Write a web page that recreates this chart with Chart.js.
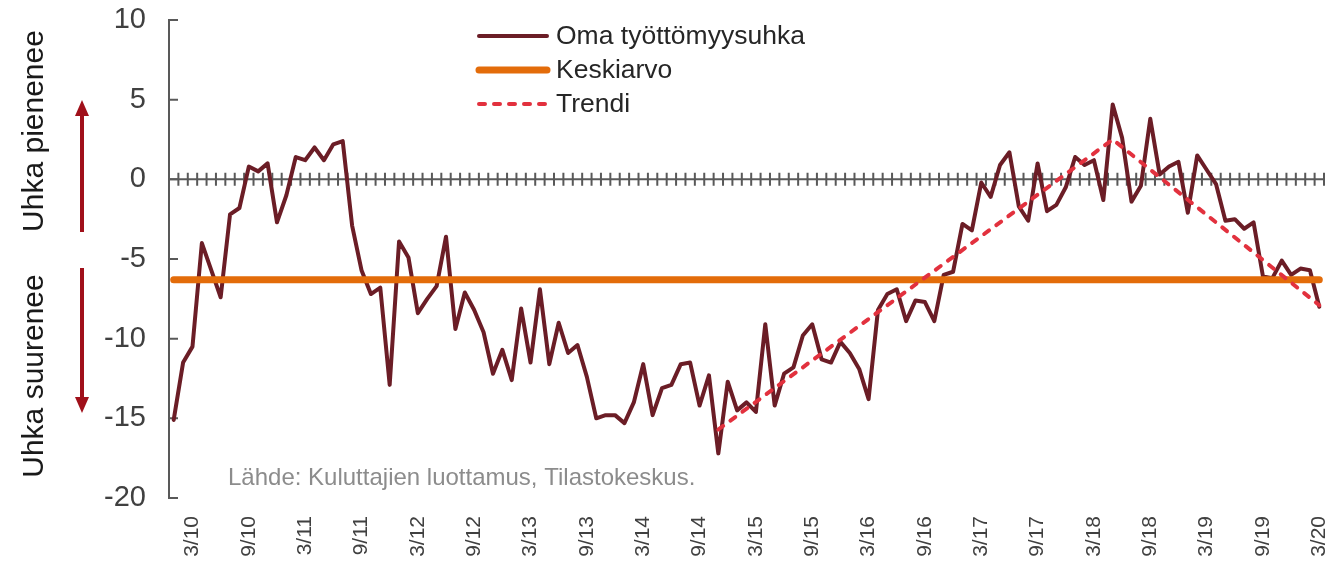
<!DOCTYPE html>
<html>
<head>
<meta charset="utf-8">
<script src="https://cdn.jsdelivr.net/npm/chart.js@4/dist/chart.umd.min.js"></script>
<style>
  html, body { margin: 0; padding: 0; background: #fff; }
  #wrap { width: 1330px; height: 562px; position: relative; }
</style>
</head>
<body>
<div id="wrap"><canvas id="c" width="1330" height="562"></canvas></div>
<script>
// ---------- DATA ----------
const categories = [
  "1/10","2/10","3/10","4/10","5/10","6/10","7/10","8/10","9/10","10/10","11/10","12/10",
  "1/11","2/11","3/11","4/11","5/11","6/11","7/11","8/11","9/11","10/11","11/11","12/11",
  "1/12","2/12","3/12","4/12","5/12","6/12","7/12","8/12","9/12","10/12","11/12","12/12",
  "1/13","2/13","3/13","4/13","5/13","6/13","7/13","8/13","9/13","10/13","11/13","12/13",
  "1/14","2/14","3/14","4/14","5/14","6/14","7/14","8/14","9/14","10/14","11/14","12/14",
  "1/15","2/15","3/15","4/15","5/15","6/15","7/15","8/15","9/15","10/15","11/15","12/15",
  "1/16","2/16","3/16","4/16","5/16","6/16","7/16","8/16","9/16","10/16","11/16","12/16",
  "1/17","2/17","3/17","4/17","5/17","6/17","7/17","8/17","9/17","10/17","11/17","12/17",
  "1/18","2/18","3/18","4/18","5/18","6/18","7/18","8/18","9/18","10/18","11/18","12/18",
  "1/19","2/19","3/19","4/19","5/19","6/19","7/19","8/19","9/19","10/19","11/19","12/19",
  "1/20","2/20","3/20"
];
const tickLabels = ["3/10","9/10","3/11","9/11","3/12","9/12","3/13","9/13","3/14","9/14",
  "3/15","9/15","3/16","9/16","3/17","9/17","3/18","9/18","3/19","9/19","3/20"];

const ownThreat = [
  -15.1, -11.5, -10.5, -4.0, -5.7, -7.4, -2.2, -1.8, 0.8, 0.5, 1.0, -2.7,
  -1.0, 1.4, 1.2, 2.0, 1.2, 2.2, 2.4, -2.9, -5.7, -7.2, -6.8, -12.9,
  -3.9, -4.9, -8.4, -7.5, -6.7, -3.6, -9.4, -7.1, -8.2, -9.6, -12.2, -10.7,
  -12.6, -8.1, -11.5, -6.9, -11.6, -9.0, -10.9, -10.4, -12.4, -15.0, -14.8, -14.8,
  -15.3, -14.0, -11.6, -14.8, -13.1, -12.9, -11.6, -11.5, -14.2, -12.3, -17.2, -12.7,
  -14.5, -14.0, -14.6, -9.1, -14.2, -12.2, -11.8, -9.8, -9.1, -11.3, -11.5, -10.2,
  -10.9, -11.9, -13.8, -8.2, -7.2, -6.9, -8.9, -7.6, -7.7, -8.9, -6.0, -5.8,
  -2.8, -3.2, -0.2, -1.1, 0.9, 1.7, -1.7, -2.6, 1.0, -2.0, -1.6, -0.5,
  1.4, 0.9, 1.2, -1.3, 4.7, 2.6, -1.4, -0.4, 3.8, 0.3, 0.8, 1.1,
  -2.1, 1.5, 0.6, -0.3, -2.6, -2.5, -3.1, -2.7, -6.1, -6.2, -5.1, -6.0,
  -5.6, -5.7, -8.0
];

const meanValue = -6.3;
const meanLabels = ["1/10", "3/20"];
const trendLabels = ["11/14", "5/18", "3/20"];
const trendValues = [-15.7, 2.5, -7.9];

const seriesNames = ["Oma työttömyysuhka", "Keskiarvo", "Trendi"];
const yMin = -20, yMax = 10, yStep = 5;
const sourceText = "Lähde: Kuluttajien luottamus, Tilastokeskus.";
const sideUp = "Uhka pienenee";
const sideDown = "Uhka suurenee";

// ---------- STYLE ----------
const FONT = "'Liberation Sans', Arial, sans-serif";
const AXIS_COLOR = "#595959";
const TEXT_COLOR = "#404040";
const C_MAIN = "#6B1D26";
const C_MEAN = "#E36C0A";
const C_TREND = "#E2313E";
const C_ARROW = "#A0101A";

const overlay = {
  id: "overlay",
  beforeDatasetsDraw(chart) {
    const ctx = chart.ctx;
    const x = chart.scales.x, y = chart.scales.y;
    const area = chart.chartArea;
    const y0 = y.getPixelForValue(0);
    ctx.save();
    ctx.strokeStyle = AXIS_COLOR;
    ctx.lineWidth = 2;
    ctx.beginPath();
    ctx.moveTo(area.left, y0);
    ctx.lineTo(area.right, y0);
    ctx.stroke();
    const step = x.getPixelForValue(1) - x.getPixelForValue(0);
    ctx.beginPath();
    for (let i = 0; i < categories.length; i++) {
      const bx = x.getPixelForValue(i) + step / 2;
      ctx.moveTo(bx, y0 - 6.5);
      ctx.lineTo(bx, y0 + 6.5);
    }
    ctx.stroke();
    // inside ticks on y axis
    ctx.beginPath();
    for (let v = yMin; v <= yMax; v += yStep) {
      const py = y.getPixelForValue(v);
      ctx.moveTo(area.left, py);
      ctx.lineTo(area.left + 9, py);
    }
    ctx.stroke();
    ctx.restore();
  },
  afterDraw(chart) {
    const ctx = chart.ctx;
    ctx.save();
    // source
    ctx.fillStyle = "#8C8C8C";
    ctx.font = "24px " + FONT;
    ctx.textAlign = "left";
    ctx.textBaseline = "middle";
    ctx.fillText(sourceText, 228, 478);
    // side labels
    ctx.fillStyle = "#1A1A1A";
    ctx.font = "30px " + FONT;
    ctx.textAlign = "center";
    ctx.textBaseline = "middle";
    ctx.save();
    ctx.translate(35, 131);
    ctx.rotate(-Math.PI / 2);
    ctx.fillText(sideUp, 0, 0);
    ctx.restore();
    ctx.save();
    ctx.translate(35, 376);
    ctx.rotate(-Math.PI / 2);
    ctx.fillText(sideDown, 0, 0);
    ctx.restore();
    // arrows
    function arrow(xp, yFrom, yTip) {
      const dir = yTip < yFrom ? -1 : 1;
      const headLen = 16, headHalf = 7;
      ctx.strokeStyle = C_ARROW;
      ctx.fillStyle = C_ARROW;
      ctx.lineWidth = 4;
      ctx.beginPath();
      ctx.moveTo(xp, yFrom);
      ctx.lineTo(xp, yTip - dir * headLen);
      ctx.stroke();
      ctx.beginPath();
      ctx.moveTo(xp, yTip);
      ctx.lineTo(xp - headHalf, yTip - dir * headLen);
      ctx.lineTo(xp + headHalf, yTip - dir * headLen);
      ctx.closePath();
      ctx.fill();
    }
    arrow(82, 232, 100);
    arrow(82, 268, 413);
    // legend
    const rows = [36, 70, 104];
    chart.data.datasets.forEach((ds, i) => {
      const ry = rows[i];
      ctx.strokeStyle = ds.borderColor;
      ctx.lineWidth = ds.borderWidth;
      ctx.lineCap = ds.borderCapStyle || "butt";
      ctx.setLineDash(ds.borderDash || []);
      ctx.beginPath();
      ctx.moveTo(479, ry);
      ctx.lineTo(547, ry);
      ctx.stroke();
      ctx.setLineDash([]);
      ctx.fillStyle = "#262626";
      ctx.font = "26.5px " + FONT;
      ctx.textAlign = "left";
      ctx.textBaseline = "middle";
      ctx.fillText(ds.label, 556, ry + 1);
    });
    ctx.restore();
  }
};

new Chart(document.getElementById("c"), {
  type: "line",
  data: {
    labels: categories,
    datasets: [
      {
        label: seriesNames[0],
        data: ownThreat,
        borderColor: C_MAIN,
        borderWidth: 4,
        borderJoinStyle: "round",
        borderCapStyle: "round",
        pointRadius: 0,
        tension: 0,
        order: 3
      },
      {
        label: seriesNames[1],
        data: meanLabels.map(l => ({ x: l, y: meanValue })),
        borderColor: C_MEAN,
        borderWidth: 7,
        borderCapStyle: "round",
        pointRadius: 0,
        spanGaps: true,
        order: 2
      },
      {
        label: seriesNames[2],
        data: trendLabels.map((l, i) => ({ x: l, y: trendValues[i] })),
        borderColor: C_TREND,
        borderWidth: 4,
        borderDash: [6, 9],
        borderCapStyle: "round",
        pointRadius: 0,
        spanGaps: true,
        order: 1
      }
    ]
  },
  options: {
    responsive: false,
    animation: false,
    devicePixelRatio: 1,
    layout: { padding: { left: 0, right: 6, top: 20, bottom: 0 } },
    plugins: { legend: { display: false }, tooltip: { enabled: false } },
    scales: {
      x: {
        type: "category",
        offset: true,
        grid: { display: false, drawTicks: false },
        border: { display: false },
        ticks: {
          autoSkip: false,
          maxRotation: 90,
          minRotation: 90,
          padding: 18,
          color: TEXT_COLOR,
          font: { family: FONT, size: 21 },
          callback: function (val) {
            const l = categories[val];
            return tickLabels.includes(l) ? l : "";
          }
        },
        afterFit(scale) {
          scale.height = 64;
          scale.paddingLeft = 0;
          scale.paddingRight = 0;
        }
      },
      y: {
        min: yMin,
        max: yMax,
        grid: { display: false, drawTicks: false },
        border: { display: true, color: AXIS_COLOR, width: 2 },
        ticks: {
          stepSize: yStep,
          padding: 23,
          color: TEXT_COLOR,
          font: { family: FONT, size: 29 }
        },
        afterFit(scale) {
          scale.width = 169;
          scale.paddingTop = 0;
          scale.paddingBottom = 0;
        }
      }
    }
  },
  plugins: [overlay]
});
</script>
</body>
</html>
